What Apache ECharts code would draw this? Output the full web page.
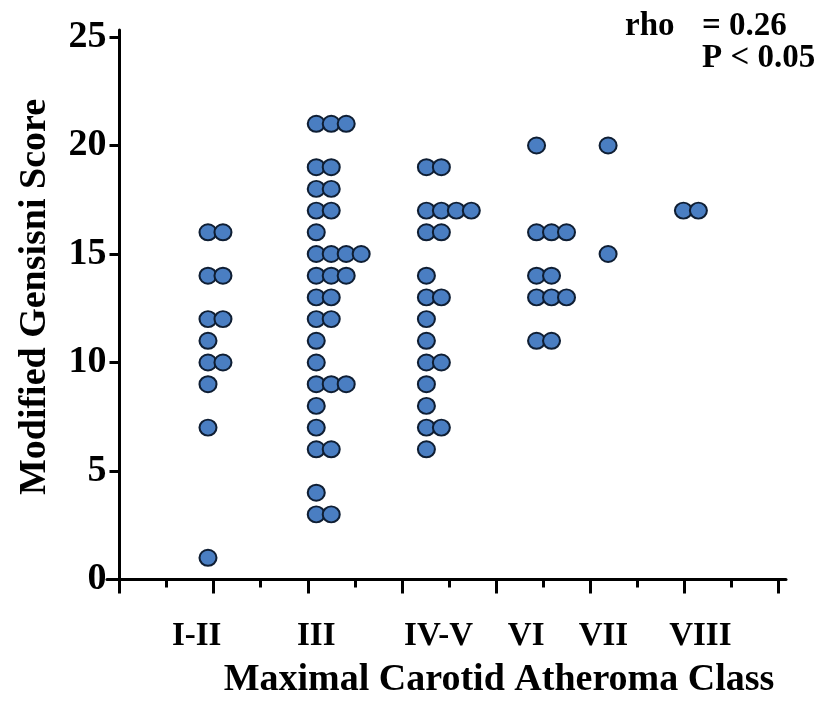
<!DOCTYPE html>
<html>
<head>
<meta charset="utf-8">
<script src="https://cdn.jsdelivr.net/npm/echarts@6/dist/echarts.min.js"></script>
<style>
html,body{margin:0;padding:0;background:#fff;}
#chart{width:820px;height:702px;}
</style>
</head>
<body>
<div id="chart"></div>
<script>
// ---- data ----
const categories = ['I-II', 'III', 'IV-V', 'VI', 'VII', 'VIII'];
const scoresI_II = [16, 16, 14, 14, 12, 12, 11, 10, 10, 9, 7, 1];
const scoresIII = [21, 21, 21, 19, 19, 18, 18, 17, 17, 16, 15, 15, 15, 15, 14, 14, 14, 13, 13, 12, 12, 11, 10, 9, 9, 9, 8, 7, 6, 6, 4, 3, 3];
const scoresIV_V = [19, 19, 17, 17, 17, 17, 16, 16, 14, 13, 13, 12, 11, 10, 10, 9, 8, 7, 7, 6];
const scoresVI = [20, 16, 16, 16, 14, 14, 13, 13, 13, 11, 11];
const scoresVII = [20, 15];
const scoresVIII = [17, 17];
const yTicks = [0, 5, 10, 15, 20, 25];
const statsRho = 'rho';
const statsRhoVal = '= 0.26';
const statsP = 'P < 0.05';
const xTitle = 'Maximal Carotid Atheroma Class';
const yTitle = 'Modified Gensisni Score';

// ---- layout (axis units) ----
const groupScores = [scoresI_II, scoresIII, scoresIV_V, scoresVI, scoresVII, scoresVIII];
const groupX = [0.94, 2.09, 3.26, 4.43, 5.19, 5.99];
const labelX = [0.82, 2.09, 3.39, 4.32, 5.14, 6.17];
const step = 0.159;

const points = [];
groupScores.forEach((arr, g) => {
  const seen = {};
  arr.forEach(v => {
    const k = seen[v] || 0;
    seen[v] = k + 1;
    points.push([groupX[g] + k * step, v]);
  });
});

const FONT = "'Liberation Serif', 'Times New Roman', serif";
const black = '#000';

const chart = echarts.init(document.getElementById('chart'), null, {renderer: 'canvas'});
chart.setOption({
  animation: false,
  backgroundColor: '#fff',
  grid: [
    {left: 119.5, right: 41.5, top: 37, bottom: 122.5},
    {left: 107, right: 34, top: 37, bottom: 122.5},
    {left: 119.5, right: 41.5, top: 30, bottom: 122.5}
  ],
  xAxis: [
    {
      type: 'value', gridIndex: 0, min: 0, max: 7, interval: 1,
      axisLine: {show: false},
      axisTick: {show: true, length: 14, lineStyle: {color: black, width: 3}},
      minorTick: {show: true, splitNumber: 2, length: 8, lineStyle: {color: black, width: 3}},
      axisLabel: {show: false},
      splitLine: {show: false}, minorSplitLine: {show: false}
    },
    {
      type: 'value', gridIndex: 1, min: 0, max: 1,
      axisLine: {show: true, lineStyle: {color: black, width: 3}},
      axisTick: {show: false}, axisLabel: {show: false}, splitLine: {show: false}
    },
    {type: 'value', gridIndex: 2, show: false, min: 0, max: 1},
    {
      type: 'value', gridIndex: 0, min: 0, max: 7, position: 'bottom', offset: 0,
      axisLine: {show: false}, axisTick: {show: false}, splitLine: {show: false},
      axisLabel: {
        show: true, customValues: labelX, margin: 40,
        fontFamily: FONT, fontWeight: 'bold', fontSize: 33, color: black,
        formatter: function (v) {
          let best = 0;
          labelX.forEach((x, i) => { if (Math.abs(x - v) < Math.abs(labelX[best] - v)) best = i; });
          return categories[best];
        }
      }
    }
  ],
  yAxis: [
    {
      type: 'value', gridIndex: 0, min: yTicks[0], max: yTicks[yTicks.length - 1], interval: yTicks[1] - yTicks[0],
      axisLine: {show: false},
      axisTick: {show: true, length: 10, lineStyle: {color: black, width: 3}},
      axisLabel: {margin: 13, fontFamily: FONT, fontWeight: 'bold', fontSize: 38, color: black},
      splitLine: {show: false}
    },
    {type: 'value', gridIndex: 1, show: false, min: 0, max: 1},
    {
      type: 'value', gridIndex: 2, min: 0, max: 1,
      axisLine: {show: true, lineStyle: {color: black, width: 3}},
      axisTick: {show: false}, axisLabel: {show: false}, splitLine: {show: false}
    }
  ],
  series: [{
    type: 'scatter', xAxisIndex: 0, yAxisIndex: 0,
    symbol: 'circle', symbolSize: [17, 16],
    itemStyle: {color: '#4a7ec2', borderColor: '#0f1e33', borderWidth: 2, opacity: 1},
    data: points,
    z: 5
  }],
  graphic: [
    {type: 'text', left: 625, top: 10, style: {text: statsRho, font: 'bold 33px ' + FONT, fill: black}},
    {type: 'text', left: 702, top: 10, style: {text: statsRhoVal, font: 'bold 33px ' + FONT, fill: black}},
    {type: 'text', left: 702, top: 42, style: {text: statsP, font: 'bold 33px ' + FONT, fill: black}},
    {type: 'text', x: 499, y: 680, style: {text: xTitle, font: 'bold 38px ' + FONT, fill: black, align: 'center', verticalAlign: 'middle'}},
    {type: 'text', x: 35, y: 297, rotation: Math.PI / 2, style: {text: yTitle, font: 'bold 38px ' + FONT, fill: black, align: 'center', verticalAlign: 'middle'}}
  ]
});
</script>
</body>
</html>
